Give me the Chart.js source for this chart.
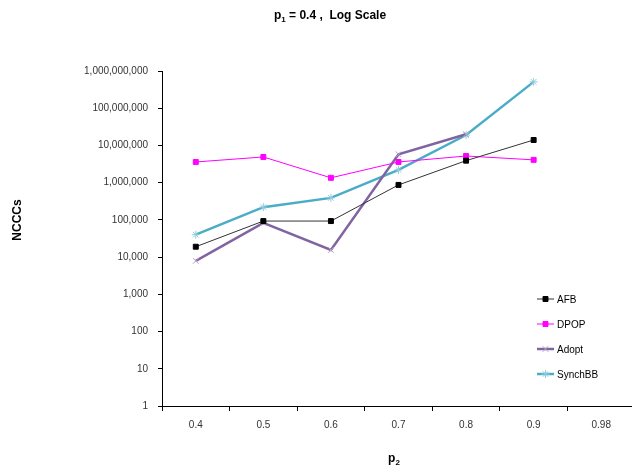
<!DOCTYPE html>
<html>
<head>
<meta charset="utf-8">
<script src="https://cdn.jsdelivr.net/npm/chart.js@4"></script>
<style>
  body { margin: 0; overflow: hidden; background: #fff; }
  #wrap { width: 640px; height: 466px; }
</style>
</head>
<body>
<div id="wrap"><canvas id="nccChart" width="640" height="466"></canvas></div>
<script>
// p2 categories
const categories = ['0.4', '0.5', '0.6', '0.7', '0.8', '0.9', '0.98'];

// NCCCs per algorithm
const afbValues = [19000, 93000, 93000, 870000, 3900000, 14000000, null];
const dpopValues = [3600000, 4900000, 1350000, 3600000, 5200000, 4100000, null];
const adoptValues = [7900, 83000, 15500, 5800000, 20000000, null, null];
const synchbbValues = [40000, 220000, 390000, 2200000, 19000000, 510000000, null];

// y axis tick values
const yTicks = [1, 10, 100, 1000, 10000, 100000, 1000000, 10000000, 100000000, 1000000000];

const FONT = 'Liberation Sans, Arial, sans-serif';

// Draws title, axis titles (with subscripts) and the legend box
const textPlugin = {
  id: 'textPlugin',
  afterDraw(chart) {
    const ctx = chart.ctx;
    ctx.save();
    ctx.fillStyle = '#000';
    ctx.textBaseline = 'alphabetic';

    // title "p1 = 0.4 ,  Log Scale"
    drawSub(ctx, 'p', '1', ' = 0.4 ,  Log Scale', 330, 19, 12, true);
    // x axis title
    drawSub(ctx, 'p', '2', '', 394, 462, 12, true);

    // y axis title
    ctx.save();
    ctx.translate(21, 220);
    ctx.rotate(-Math.PI / 2);
    ctx.font = 'bold 12px ' + FONT;
    ctx.textAlign = 'center';
    ctx.fillText('NCCCs', 0, 0);
    ctx.restore();

    // legend
    const ys = [299, 324, 349, 374];
    chart.data.datasets.forEach((ds, i) => {
      const y = ys[i];
      ctx.strokeStyle = ds.borderColor;
      ctx.lineWidth = ds.borderWidth;
      ctx.beginPath();
      ctx.moveTo(537, y);
      ctx.lineTo(554, y);
      ctx.stroke();
      ctx.fillStyle = ds.pointBackgroundColor;
      ctx.strokeStyle = ds.pointBorderColor;
      ctx.lineWidth = 1;
      Chart.helpers.drawPoint(ctx, {
        pointStyle: ds.pointStyle,
        radius: ds.pointRadius,
        borderWidth: 1
      }, 545.5, y);
      ctx.fillStyle = '#000';
      ctx.font = '10px ' + FONT;
      ctx.textAlign = 'left';
      ctx.textBaseline = 'middle';
      ctx.fillText(ds.label, 557, y + 1);
    });
    ctx.restore();
  }
};

function drawSub(ctx, base, sub, rest, cx, y, size, bold) {
  const w = bold ? 'bold ' : '';
  const big = w + size + 'px ' + FONT;
  const small = w + Math.round(size * 0.65) + 'px ' + FONT;
  ctx.font = big;
  const w1 = ctx.measureText(base).width;
  const w3 = ctx.measureText(rest).width;
  ctx.font = small;
  const w2 = ctx.measureText(sub).width;
  let x = cx - (w1 + w2 + w3) / 2;
  ctx.textAlign = 'left';
  ctx.font = big;
  ctx.fillText(base, x, y);
  x += w1;
  ctx.font = small;
  ctx.fillText(sub, x, y + 3);
  x += w2;
  ctx.font = big;
  ctx.fillText(rest, x, y);
}

const ctx = document.getElementById('nccChart').getContext('2d');
new Chart(ctx, {
  type: 'line',
  data: {
    labels: categories,
    datasets: [{
      label: 'AFB',
      data: afbValues,
      borderColor: '#333333',
      borderWidth: 1,
      pointStyle: 'rect',
      pointRadius: 3.5,
      pointBackgroundColor: '#000',
      pointBorderColor: '#000',
      pointBorderWidth: 1
    }, {
      label: 'DPOP',
      data: dpopValues,
      borderColor: '#ff00ff',
      borderWidth: 1,
      pointStyle: 'rect',
      pointRadius: 3.5,
      pointBackgroundColor: '#ff00ff',
      pointBorderColor: '#ff00ff',
      pointBorderWidth: 1
    }, {
      label: 'Adopt',
      data: adoptValues,
      borderColor: '#8064a2',
      borderWidth: 2.5,
      pointStyle: 'crossRot',
      pointRadius: 4,
      pointBackgroundColor: '#b3a2c7',
      pointBorderColor: '#b3a2c7',
      pointBorderWidth: 1
    }, {
      label: 'SynchBB',
      data: synchbbValues,
      borderColor: '#4bacc6',
      borderWidth: 2.5,
      pointStyle: 'star',
      pointRadius: 4,
      pointBackgroundColor: '#93cddd',
      pointBorderColor: '#93cddd',
      pointBorderWidth: 1
    }]
  },
  options: {
    responsive: false,
    animation: false,
    layout: { padding: { left: 0, top: 71, right: 2, bottom: 0 } },
    plugins: {
      legend: { display: false },
      title: { display: false },
      tooltip: { enabled: false }
    },
    elements: { line: { tension: 0 } },
    scales: {
      x: {
        type: 'category',
        offset: true,
        afterFit: s => { s.height = 60; },
        border: { display: true, color: '#000', width: 1 },
        grid: {
          display: true,
          drawOnChartArea: false,
          drawTicks: true,
          tickLength: 5,
          color: '#000',
          offset: true
        },
        ticks: {
          color: '#333',
          font: { family: FONT, size: 10 },
          padding: 8,
          maxRotation: 0
        }
      },
      y: {
        type: 'logarithmic',
        min: 1,
        max: 1000000000,
        afterFit: s => { s.width = 162; },
        afterBuildTicks: s => { s.ticks = yTicks.map(v => ({ value: v })); },
        border: { display: true, color: '#000', width: 1 },
        grid: {
          display: true,
          drawOnChartArea: false,
          drawTicks: true,
          tickLength: 4,
          color: '#000'
        },
        ticks: {
          color: '#333',
          font: { family: FONT, size: 10 },
          padding: 10,
          callback: v => Number(v).toLocaleString('en-US')
        }
      }
    }
  },
  plugins: [textPlugin]
});
</script>
</body>
</html>
